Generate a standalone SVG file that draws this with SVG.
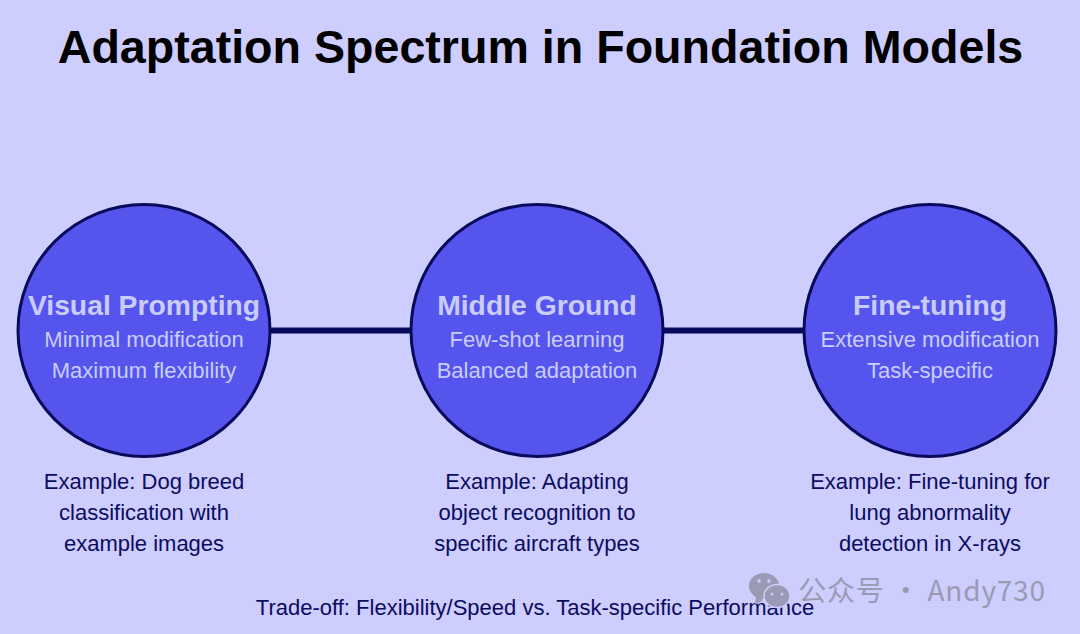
<svg xmlns="http://www.w3.org/2000/svg" width="1080" height="634" viewBox="0 0 1080 634">
<style>
text{font-family:"Liberation Sans",Arial,sans-serif;text-anchor:middle}
.c{fill:#5555ee;stroke:#0a0a5c;stroke-width:3}
.h{font-size:28.300px;font-weight:bold;fill:#c9cdfd}
.s{font-size:22px;fill:#c9cdfd}
.e{font-size:22px;fill:#0c0c5e}
.w{fill:#9a9ab4}
</style>
<rect width="1080" height="634" fill="#cdcdfe"/>
<text id="title" x="540.500" y="63" font-size="46.600" font-weight="bold" fill="#000">Adaptation Spectrum in Foundation Models</text>
<g id="connectors" stroke="#0a0a5c" stroke-width="6">
<line x1="271" y1="330.500" x2="411" y2="330.500"/>
<line x1="664" y1="330.500" x2="804" y2="330.500"/>
</g>
<g id="node-visual-prompting">
<circle class="c" cx="144" cy="330.500" r="126"/>
<text class="h" x="144" y="315">Visual Prompting</text>
<text class="s" x="144" y="347">Minimal modification</text>
<text class="s" x="144" y="378">Maximum flexibility</text>
<text class="e" x="144" y="489">Example: Dog breed</text>
<text class="e" x="144" y="520">classification with</text>
<text class="e" x="144" y="551">example images</text>
</g>
<g id="node-middle-ground">
<circle class="c" cx="537" cy="330.500" r="126"/>
<text class="h" x="537" y="315">Middle Ground</text>
<text class="s" x="537" y="347">Few-shot learning</text>
<text class="s" x="537" y="378">Balanced adaptation</text>
<text class="e" x="537" y="489">Example: Adapting</text>
<text class="e" x="537" y="520">object recognition to</text>
<text class="e" x="537" y="551">specific aircraft types</text>
</g>
<g id="node-fine-tuning">
<circle class="c" cx="930" cy="330.500" r="126"/>
<text class="h" x="930" y="315">Fine-tuning</text>
<text class="s" x="930" y="347">Extensive modification</text>
<text class="s" x="930" y="378">Task-specific</text>
<text class="e" x="930" y="489">Example: Fine-tuning for</text>
<text class="e" x="930" y="520">lung abnormality</text>
<text class="e" x="930" y="551">detection in X-rays</text>
</g>
<text class="e" x="535" y="615">Trade-off: Flexibility/Speed vs. Task-specific Performance</text>
<g id="watermark">
<ellipse class="w" cx="764" cy="586" rx="15" ry="13"/>
<path class="w" d="M756 596l-1 9 8-5z"/>
<ellipse class="w" cx="777" cy="596" rx="13" ry="11.500" stroke="#cdcdfe" stroke-width="1.500"/>
<circle cx="759" cy="581" r="1.800" fill="#cdcdfe"/><circle cx="769" cy="581" r="1.800" fill="#cdcdfe"/>
<circle cx="772" cy="594" r="1.500" fill="#cdcdfe"/><circle cx="782" cy="594" r="1.500" fill="#cdcdfe"/>
<text x="922" y="601" font-size="28" letter-spacing="0.800" fill="#9a9ab4" style="font-family:'Noto Sans CJK SC','Noto Sans',sans-serif">公众号 · Andy730</text>
</g>
</svg>
